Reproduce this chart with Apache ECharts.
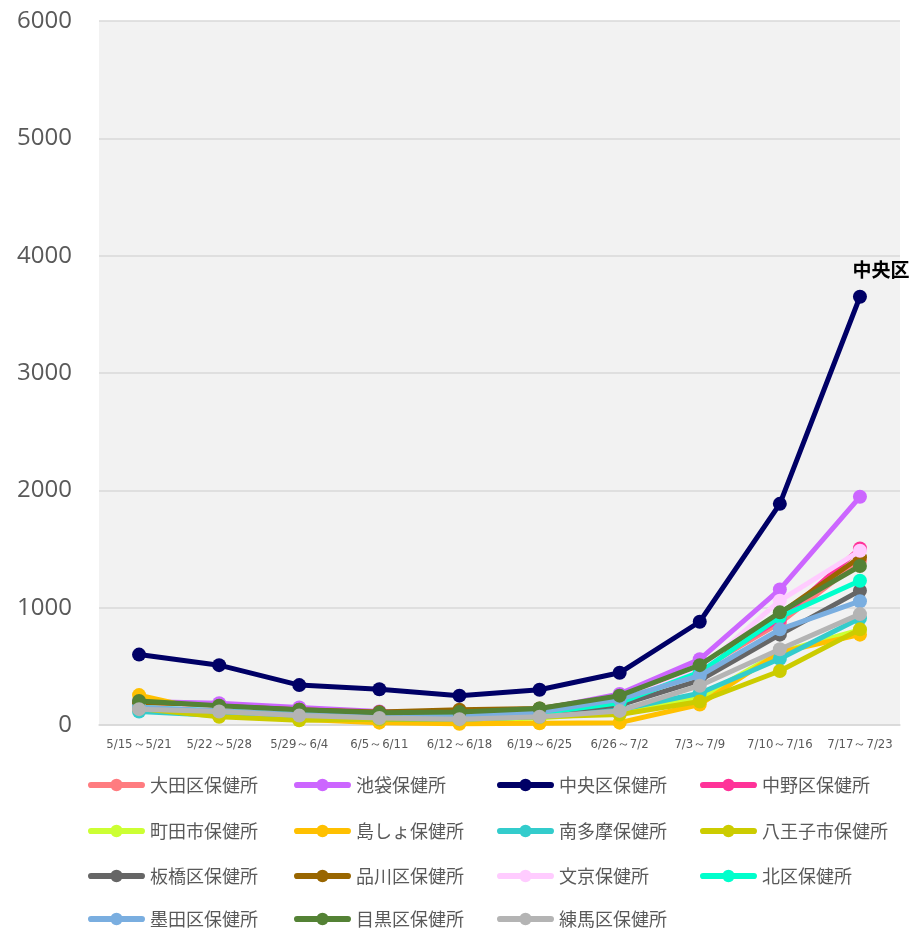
<!DOCTYPE html>
<html><head><meta charset="utf-8">
<script src="https://cdn.jsdelivr.net/npm/echarts@6/dist/echarts.min.js"></script>
<style>html,body{margin:0;padding:0;background:#fff;}#c{width:912px;height:929px;}</style>
</head><body><div id="c"></div>
<script>
const categories = ['5/15～5/21','5/22～5/28','5/29～6/4','6/5～6/11','6/12～6/18','6/19～6/25','6/26～7/2','7/3～7/9','7/10～7/16','7/17～7/23'];
const yTicks = [0, 1000, 2000, 3000, 4000, 5000, 6000];
const names = ['大田区保健所','池袋保健所','中央区保健所','中野区保健所','町田市保健所','島しょ保健所','南多摩保健所','八王子市保健所','板橋区保健所','品川区保健所','文京保健所','北区保健所','墨田区保健所','目黒区保健所','練馬区保健所'];
const colors = ['#ff7c80','#cc66ff','#000066','#ff3399','#ccff33','#ffc000','#33cccc','#cccc00','#666666','#996600','#ffccff','#00ffcc','#7aaee0','#548235','#b4b4b4'];
const ota       = [170, 150, 110, 80, 90, 120, 210, 470, 870, 1400];
const ikebukuro = [200, 185, 150, 115, 110, 130, 265, 560, 1155, 1945];
const chuo      = [600, 510, 340, 305, 250, 300, 445, 880, 1885, 3650];
const nakano    = [160, 140, 100, 80, 80, 110, 220, 480, 900, 1505];
const machida   = [130, 90, 60, 40, 40, 60, 110, 230, 620, 810];
const shima     = [255, 100, 50, 20, 10, 15, 20, 175, 620, 770];
const minamitama= [115, 80, 60, 50, 50, 70, 130, 270, 565, 910];
const hachioji  = [140, 70, 40, 50, 50, 70, 90, 200, 460, 815];
const itabashi  = [160, 130, 100, 80, 80, 100, 170, 380, 770, 1145];
const shinagawa = [190, 160, 130, 110, 130, 140, 240, 500, 950, 1430];
const bunkyo    = [150, 130, 100, 80, 80, 110, 210, 470, 1060, 1485];
const kita      = [150, 120, 90, 70, 70, 100, 190, 450, 920, 1230];
const sumida    = [150, 120, 90, 70, 70, 110, 220, 420, 815, 1055];
const meguro    = [205, 165, 130, 105, 110, 140, 250, 510, 960, 1355];
const nerima    = [135, 115, 80, 60, 50, 70, 120, 335, 645, 945];
const values = [ota, ikebukuro, chuo, nakano, machida, shima, minamitama, hachioji, itabashi, shinagawa, bunkyo, kita, sumida, meguro, nerima];
const endLabel = '中央区';

const series = names.map((n, i) => ({
  name: n, type: 'line', data: values[i],
  symbol: 'circle', symbolSize: 14,
  lineStyle: { width: 5, color: colors[i] },
  itemStyle: { color: colors[i] },
  z: 2 + i,
  label: i === 2 ? {
    show: true, position: 'top', distance: 10, offset: [21, 0],
    formatter: p => p.dataIndex === categories.length - 1 ? endLabel : '',
    color: '#000', fontWeight: 'bold', fontSize: 19, fontFamily: 'Noto Sans CJK JP'
  } : { show: false }
}));

const iconPath = 'path://M3,4 H52 A3,3 0 0,1 52,10 H3 A3,3 0 0,1 3,4 Z M21.5,7 A6,6 0 1,1 33.5,7 A6,6 0 1,1 21.5,7 Z';
const colLeft = [88, 294, 497, 700];
const rowCenter = [785, 831, 876, 919];
const legends = names.map((n, i) => ({
  data: [{ name: n, icon: iconPath }],
  left: colLeft[i % 4], top: rowCenter[Math.floor(i / 4)] - 9,
  itemWidth: 57, itemHeight: 14, padding: 0,
  textStyle: { color: '#595959', fontSize: 18, lineHeight: 18, fontFamily: 'Noto Sans CJK JP' }
}));

const chart = echarts.init(document.getElementById('c'));
chart.setOption({
  animation: false,
  backgroundColor: '#fff',
  color: colors,
  legend: legends,
  grid: { left: 99, right: 12, top: 21, bottom: 204, show: true, backgroundColor: '#f2f2f2', borderWidth: 0 },
  xAxis: {
    type: 'category', data: categories, boundaryGap: true,
    axisLine: { show: true, lineStyle: { color: '#d9d9d9', width: 1.5 } },
    axisTick: { show: false },
    axisLabel: { color: '#595959', fontSize: 13, fontFamily: 'DejaVu Sans Condensed', margin: 13, interval: 0 }
  },
  yAxis: {
    type: 'value', min: yTicks[0], max: yTicks[yTicks.length - 1], interval: 1000,
    axisLine: { show: false }, axisTick: { show: false },
    splitLine: { lineStyle: { color: '#d9d9d9', width: 1.5 } },
    axisLabel: { color: '#595959', fontSize: 24, fontFamily: 'Open Sans', margin: 27, formatter: v => String(v) }
  },
  series: series
});
</script></body></html>
